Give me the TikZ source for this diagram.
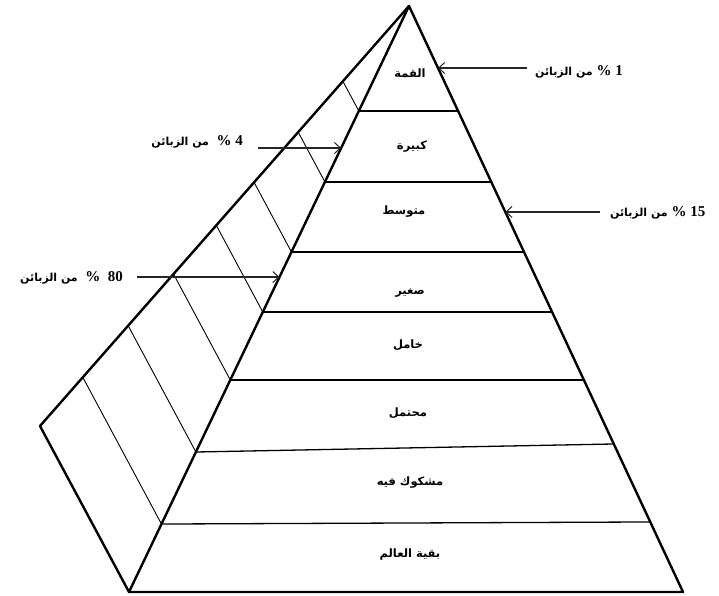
\documentclass[tikz,border=0pt]{standalone}
\usepackage{fontspec}
\setmainfont{Liberation Serif}
\newfontfamily\arabicfont[Script=Arabic]{DejaVu Sans}
\TeXXeTstate=1
\usetikzlibrary{calc,arrows.meta,intersections}
\begin{document}
\begin{tikzpicture}[x=1pt,y=-1pt,
  edge/.style={line width=2.4pt, line join=round, line cap=round},
  levelline/.style={line width=1.3pt},
  hatch/.style={line width=0.9pt},
  pointer/.style={line width=1.1pt, draw=black!85, -{Straight Barb[length=6pt,width=11pt,line width=1pt]}},
  lab/.style={font=\arabicfont\bfseries\fontsize{11.5}{13}\selectfont, inner sep=0pt},
  note/.style={font=\fontsize{15}{17}\selectfont\bfseries, inner sep=0pt}
]
\fill[white] (0,0) rectangle (719,596);
\useasboundingbox (0,0) rectangle (719,596);

% corners
\coordinate (A) at (409,6);
\coordinate (B) at (40,426);
\coordinate (F) at (129,592);
\coordinate (R) at (683,592);
\path[name path=back] (A) -- (B);

% level lines and hatches
\foreach \i/\tl/\tr in {1/0.1792/0.1792, 2/0.3003/0.3003, 3/0.4198/0.4198,
  4/0.5222/0.5222, 5/0.6382/0.6382, 6/0.7611/0.7474, 7/0.8840/0.8805}{
  \coordinate (l\i) at ($(A)!\tl!(F)$);
  \coordinate (r\i) at ($(A)!\tr!(R)$);
  \draw[levelline] (l\i) -- (r\i);
  \path[name path=hl] (l\i) -- ($(l\i)+(B)-(F)$);
  \path[name intersections={of=hl and back}] (intersection-1) coordinate (h\i);
  \draw[hatch] (h\i) -- (l\i);
}

% outline
\draw[edge] (A) -- (B) -- (F) -- (R) -- cycle;
\draw[edge] (A) -- (F);

% labels inside
\node[lab] (n1) at (410,73) {\beginR القمة\endR};
\node[lab] (n2) at (412,147) {\beginR كبيرة\endR};
\node[lab] (n3) at (404,212) {\beginR متوسط\endR};
\node[lab] (n4) at (410,293) {\beginR صغير\endR};
\node[lab] (n5) at (408,345) {\beginR خامل\endR};
\node[lab] (n6) at (408,413) {\beginR محتمل\endR};
\node[lab] (n7) at (410,483) {\beginR مشكوك فيه\endR};
\node[lab] (n8) at (410,555) {\beginR بقية العالم\endR};

% notes
\newcommand{\arnote}{\arabicfont\bfseries\fontsize{11}{13}\selectfont}
\node[note, anchor=west] (t1) at (535,72) {\beginR\beginL 1\endL{} \% {\arnote من الزبائن}\endR};
\node[note, anchor=east] (t2) at (243,142) {\beginR\beginL 4\endL{} \%\ \ {\arnote من الزبائن}\endR};
\node[note, anchor=west] (t3) at (610,213) {\beginR\beginL 15\endL{} \%\ {\arnote من الزبائن}\endR};
\node[note, anchor=east] (t4) at (123,278) {\beginR\beginL 80\endL{}\ \ \%\ \ {\arnote من الزبائن}\endR};

% arrow tips on edges
\coordinate (tip1) at ($(A)!0.1058!(R)$);
\coordinate (tip2) at ($(A)!0.2423!(F)$);
\coordinate (tip3) at ($(A)!0.3515!(R)$);
\coordinate (tip4) at ($(A)!0.4625!(F)$);

\draw[pointer] ([xshift=-8pt]t1.west |- tip1) -- (tip1);
\draw[pointer] ([xshift=15pt]t2.east |- tip2) -- (tip2);
\draw[pointer] ([xshift=-10pt]t3.west |- tip3) -- (tip3);
\draw[pointer] ([xshift=14pt]t4.east |- tip4) -- (tip4);
\end{tikzpicture}
\end{document}
